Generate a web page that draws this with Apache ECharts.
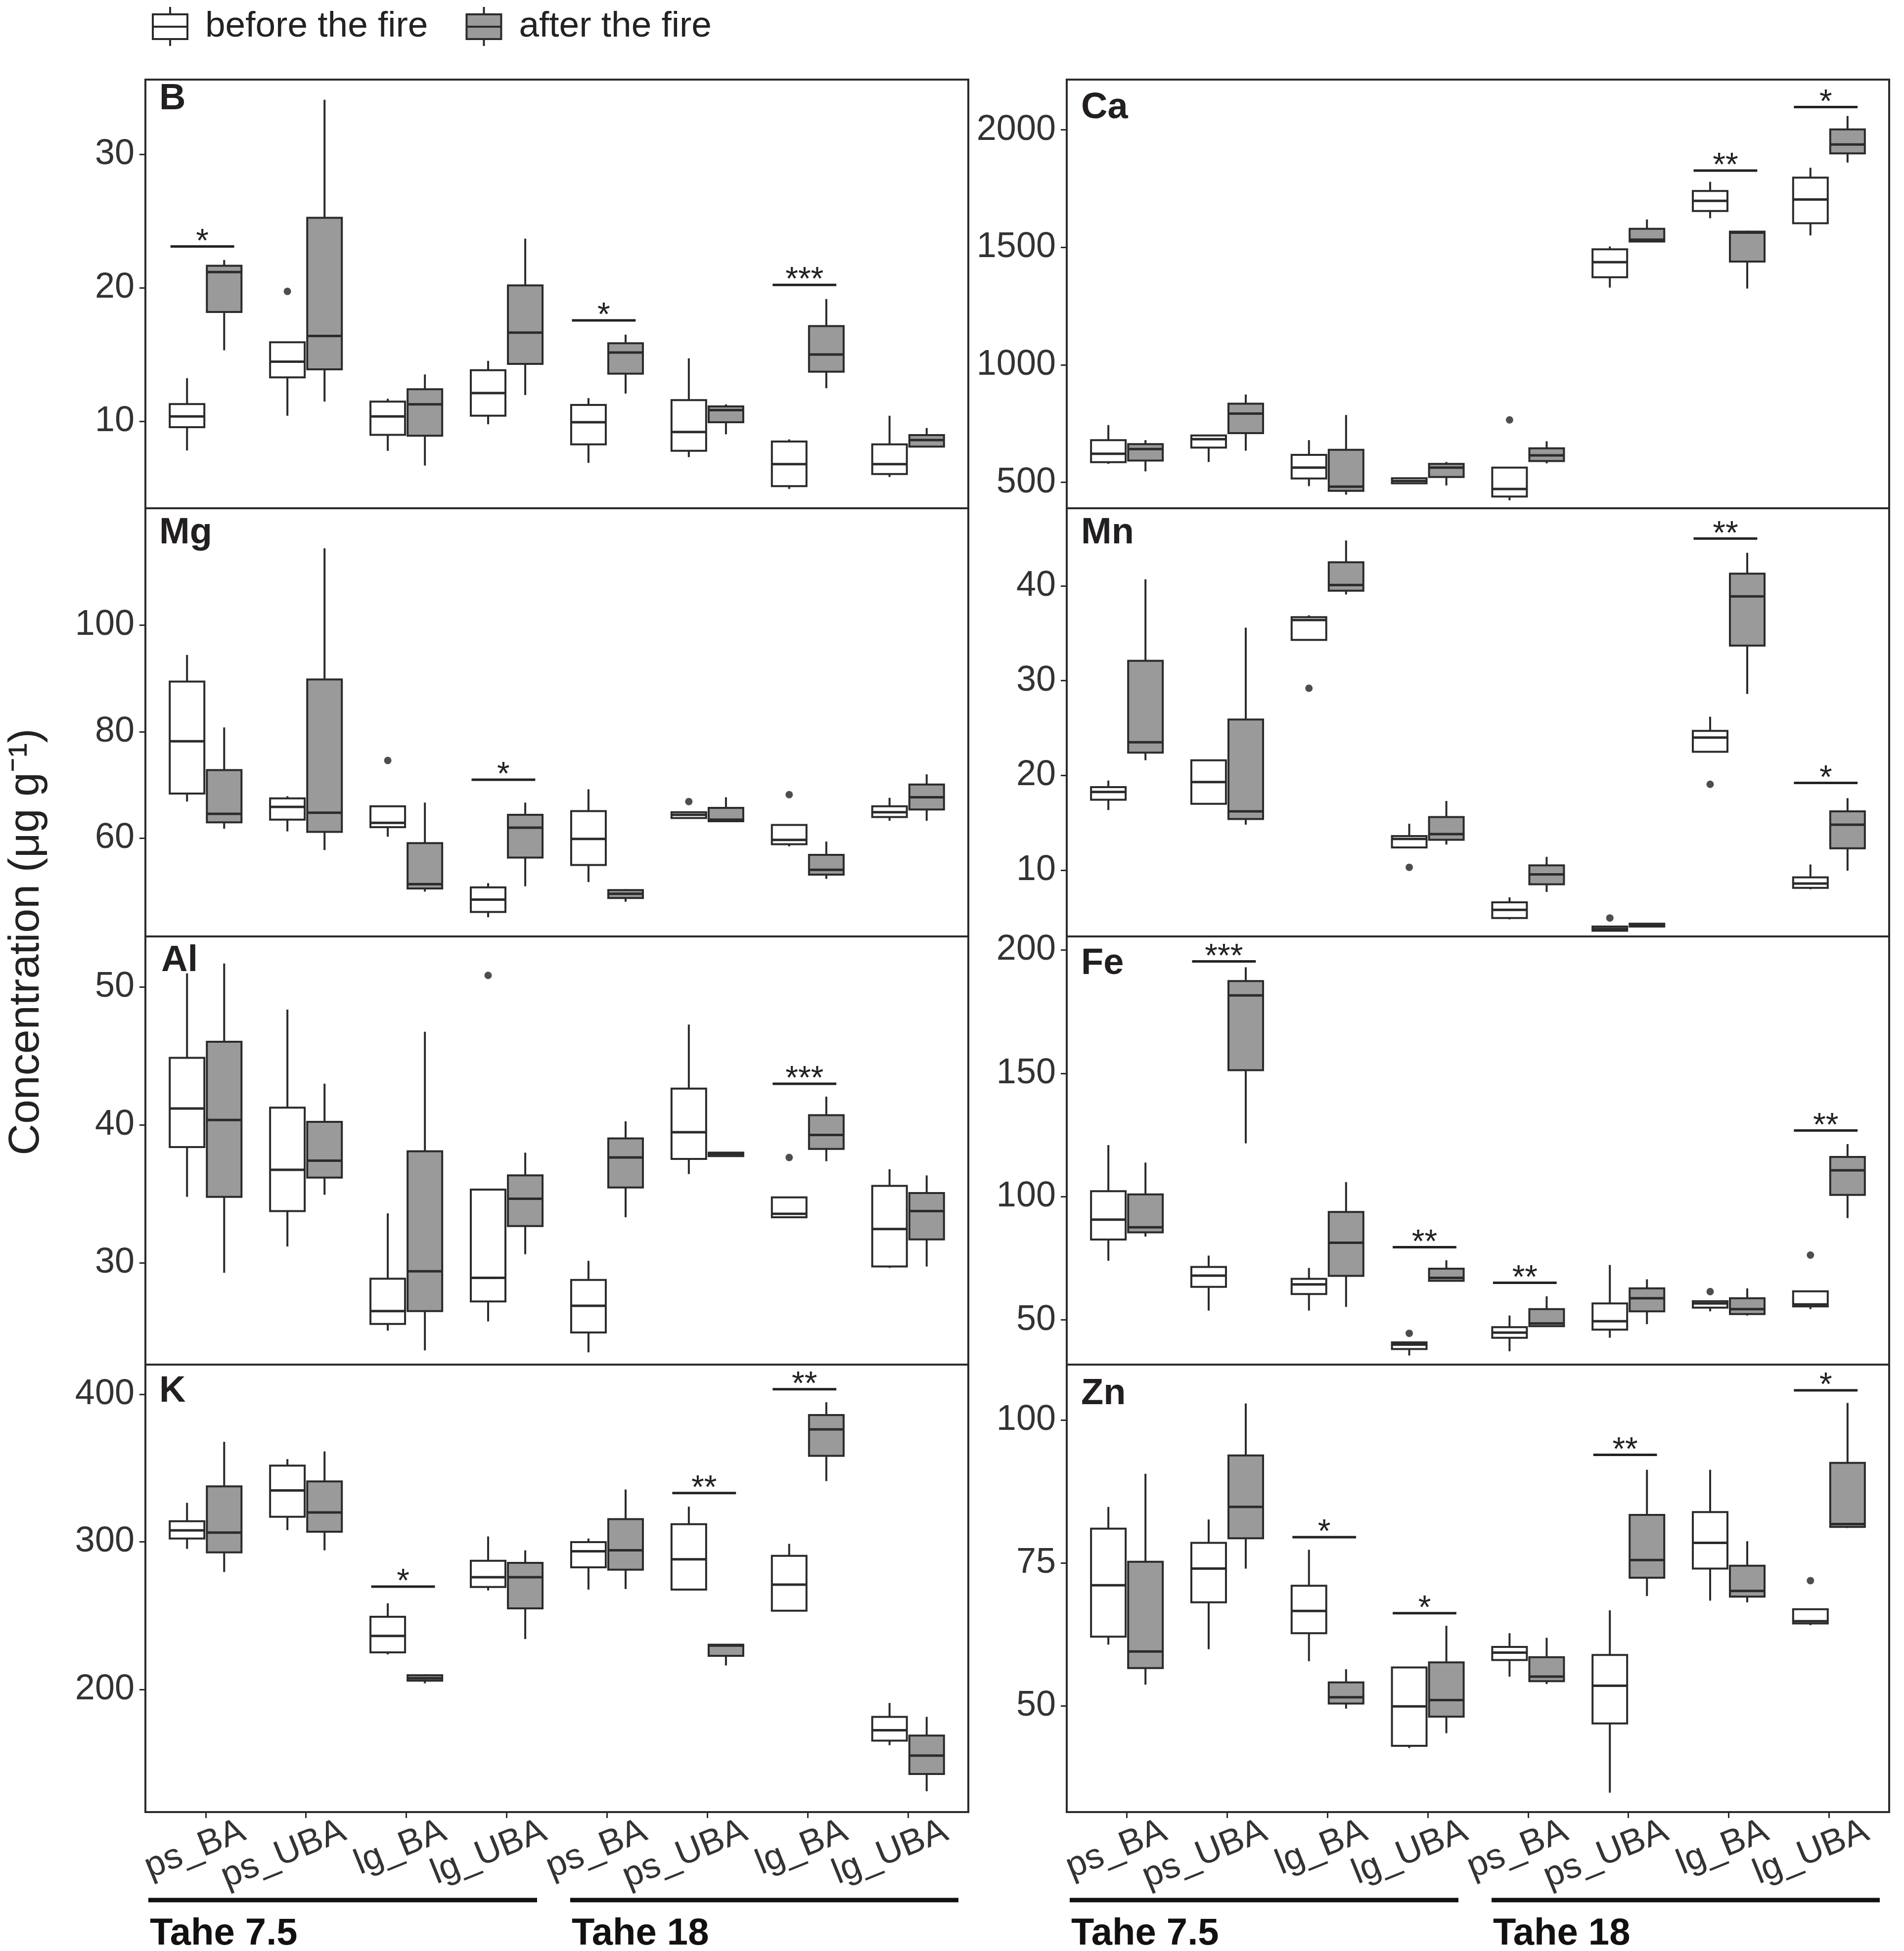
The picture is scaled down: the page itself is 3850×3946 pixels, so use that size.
<!DOCTYPE html>
<html><head><meta charset="utf-8">
<script src="https://cdn.jsdelivr.net/npm/echarts@6/dist/echarts.min.js"></script>
<style>html,body{margin:0;padding:0;background:#fff}#c{width:3850px;height:3946px}</style>
</head><body><div id="c"></div>
<script>
// ---------- data ----------
const categories = ['ps_BA','ps_UBA','lg_BA','lg_UBA','ps_BA','ps_UBA','lg_BA','lg_UBA'];
const seriesNames = ['before the fire','after the fire'];
const groupLabels = ['Tahe 7.5','Tahe 18'];
const yTitle = 'Concentration (μg g⁻¹)';

// each box: [min, Q1, median, Q3, max]
const B_before = [[7.83,9.57,10.38,11.3,13.24],[10.43,13.3,14.48,15.93,15.93],[7.8,9.0,10.38,11.49,11.7],[9.79,10.43,12.13,13.84,14.54],[6.9,8.29,9.94,11.24,11.75],[7.33,7.8,9.21,11.6,14.73],[4.95,5.16,6.8,8.5,8.66],[5.84,6.06,6.8,8.29,10.43]];
const B_after = [[15.33,18.2,21.19,21.66,22.09],[11.49,13.9,16.4,25.25,34.09],[6.7,8.93,11.28,12.41,13.52],[11.98,14.31,16.65,20.19,23.69],[12.09,13.58,15.16,15.86,16.5],[9.04,9.94,10.85,11.13,11.28],[12.49,13.73,15.01,17.14,19.17],[8.12,8.12,8.61,8.98,9.51]];
const B_outliers = [[2,19.74]];
const B_sig = [[1,23.1,'*'],[5,17.57,'*'],[7,20.23,'***']];
const B_ticks = [10,20,30];
const B_range = [3.5,35.6];

const Ca_before = [[579,586,622,680,744],[587,648,684,700,702],[484,517,563,617,680],[494,496,506,518,521],[424,440,472,563,563],[1329,1373,1437,1492,1504],[1624,1655,1698,1740,1779],[1551,1603,1704,1797,1839]];
const Ca_after = [[547,593,642,663,680],[635,710,793,835,874],[448,464,482,639,787],[487,523,563,579,587],[581,591,615,645,675],[1525,1525,1533,1579,1619],[1325,1440,1563,1567,1571],[1861,1900,1938,2002,2059]];
const Ca_outliers = [[5,766]];
const Ca_sig = [[7,1827,'**'],[8,2097,'*']];
const Ca_ticks = [500,1000,1500,2000];
const Ca_range = [390,2214];

const Mg_before = [[66.9,68.4,78.2,89.4,94.4],[61.3,63.5,65.9,67.5,67.9],[60.3,62.1,62.9,66.0,66.0],[45.2,46.2,48.5,50.8,51.6],[51.8,55.0,59.9,65.1,69.2],[63.8,63.8,64.4,64.9,64.9],[58.5,58.9,59.7,62.5,62.5],[63.3,64.0,64.9,66.0,67.6]];
const Mg_after = [[61.8,63.0,64.6,72.8,80.8],[57.8,61.2,64.8,89.8,114.4],[50.0,50.6,51.4,59.1,66.7],[51.0,56.4,62.0,64.4,66.7],[48.1,48.8,49.6,50.3,50.5],[63.2,63.2,63.5,65.7,67.7],[52.4,53.2,54.1,56.9,59.4],[63.3,65.4,67.7,70.1,72.0]];
const Mg_outliers = [[3,74.6],[6,66.9],[7,68.2]];
const Mg_sig = [[4,71.0,'*']];
const Mg_ticks = [60,80,100];
const Mg_range = [41.6,121.9];

const Mn_before = [[16.34,17.43,18.25,18.76,19.46],[17.0,17.0,19.3,21.6,21.66],[34.3,34.3,36.4,36.7,36.9],[12.4,12.4,13.3,13.6,14.9],[4.8,4.95,5.8,6.6,7.13],[3.6,3.6,3.8,4.05,4.05],[22.5,22.5,24.0,24.7,26.2],[7.98,8.13,8.58,9.24,10.6]];
const Mn_after = [[21.6,22.4,23.5,32.1,40.7],[14.8,15.4,16.2,25.9,35.6],[39.1,39.5,40.1,42.5,44.8],[12.7,13.2,13.8,15.6,17.3],[7.7,8.5,9.55,10.5,11.4],[4.05,4.05,4.2,4.35,4.4],[28.6,33.7,38.9,41.3,43.5],[9.94,12.3,14.8,16.2,17.6]];
const Mn_outliers = [[3,29.2],[4,10.3],[6,4.95],[7,19.06]];
const Mn_sig = [[7,45.0,'**'],[8,19.2,'*']];
const Mn_ticks = [10,20,30,40];
const Mn_range = [3.0,48.2];

const Al_before = [[34.8,38.41,41.2,44.87,50.99],[31.2,33.77,36.76,41.26,48.37],[25.1,25.59,26.52,28.87,33.6],[25.77,27.22,28.93,35.32,35.32],[23.53,24.97,26.9,28.78,30.16],[36.45,37.55,39.48,42.64,47.28],[33.32,33.32,33.57,34.76,34.76],[29.65,29.75,32.47,35.59,36.8]];
const Al_after = [[29.3,34.8,40.37,46.04,51.71],[34.95,36.19,37.42,40.23,43.0],[23.67,26.52,29.4,38.1,46.76],[30.64,32.68,34.66,36.35,38.0],[33.32,35.48,37.65,39.03,40.27],[37.75,37.75,37.9,38.0,38.0],[37.38,38.27,39.28,40.72,42.06],[29.75,31.71,33.77,35.07,36.35]];
const Al_outliers = [[4,50.85],[7,37.65]];
const Al_sig = [[7,42.99,'***']];
const Al_ticks = [30,40,50];
const Al_range = [22.64,53.67];

const Fe_before = [[74.0,82.6,90.7,102.2,120.9],[53.8,63.4,68.0,71.5,76.1],[53.8,60.5,64.4,66.7,71.1],[35.6,38.2,40.0,40.9,41.1],[37.3,42.8,44.9,47.1,51.8],[42.8,46.1,49.5,56.7,72.3],[53.5,55.0,56.7,57.6,57.6],[54.4,55.5,56.3,61.6,61.6]];
const Fe_after = [[83.8,85.5,87.6,100.9,113.8],[121.6,151.3,181.6,187.4,193.0],[55.3,67.9,81.3,93.8,105.9],[65.9,65.9,67.1,70.8,74.2],[47.5,47.5,48.6,54.4,59.6],[48.3,53.5,58.8,62.8,66.5],[51.8,52.4,54.4,58.8,62.8],[91.3,100.7,110.7,116.1,121.3]];
const Fe_outliers = [[4,44.6],[7,61.5],[8,76.3]];
const Fe_sig = [[2,195.4,'***'],[4,79.5,'**'],[5,65.1,'**'],[8,126.8,'**']];
const Fe_ticks = [50,100,150,200];
const Fe_range = [31.9,205.5];

const K_before = [[295.3,302.3,307.8,314.0,326.5],[308.0,317.0,334.9,351.7,356.1],[223.8,225.2,236.3,249.3,258.4],[267.1,269.5,276.1,287.2,303.7],[267.7,282.8,293.7,299.9,302.3],[267.7,267.7,288.2,312.0,323.9],[253.4,253.4,271.1,290.6,298.7],[162.3,165.4,172.4,181.5,190.9]];
const K_after = [[279.6,292.9,306.3,337.6,367.8],[294.3,306.9,320.0,341.0,361.3],[204.2,206.0,207.7,209.7,210.3],[234.2,255.0,276.1,285.8,294.3],[268.1,281.2,294.3,315.4,335.5],[216.3,222.8,229.8,230.4,230.8],[341.2,358.3,376.2,385.9,394.6],[131.1,142.8,155.3,168.8,181.5]];
const K_outliers = [];
const K_sig = [[3,269.7,'*'],[6,333.1,'**'],[7,403.4,'**']];
const K_ticks = [200,300,400];
const K_range = [117,420.1];

const Zn_before = [[60.7,62.1,71.1,81.0,84.8],[59.9,68.1,74.0,78.5,82.6],[57.8,62.7,66.6,71.0,77.3],[42.6,43.0,49.9,56.7,56.8],[55.1,58.0,59.3,60.3,62.7],[34.8,46.9,53.5,58.9,66.7],[68.4,74.0,78.5,83.9,91.3],[64.1,64.4,64.8,66.9,66.9]];
const Zn_after = [[53.7,56.6,59.5,75.2,90.6],[74.0,79.3,84.8,93.8,102.9],[49.5,50.4,51.5,54.1,56.4],[45.2,48.1,51.0,57.6,64.0],[53.8,54.3,55.1,58.5,61.9],[69.2,72.4,75.5,83.4,91.3],[68.1,69.1,70.1,74.5,78.8],[81.1,81.3,81.8,92.5,103.0]];
const Zn_outliers = [[8,71.9]];
const Zn_sig = [[3,79.5,'*'],[4,66.2,'*'],[6,93.9,'**'],[8,105.2,'*']];
const Zn_ticks = [50,75,100];
const Zn_range = [31.4,109.7];

// ---------- layout / style ----------
const FONT = "'Liberation Sans', Arial, Helvetica, sans-serif";
const INK = '#2b2b2b';
const FILLS = ['#ffffff', '#9a9a9a'];
const colLeft = [294, 2157], colWidth = [1664, 1663];
const rowTop = [161, 1028, 1894, 2760], rowH = [867, 866, 866, 905];
const DODGE = 0.185, HALFBOX = 35;

const panels = [
  {name:'B',  col:0,row:0, b:B_before,  a:B_after,  o:B_outliers,  s:B_sig,  t:B_ticks,  r:B_range,  dy:15, dx:28},
  {name:'Mg', col:0,row:1, b:Mg_before, a:Mg_after, o:Mg_outliers, s:Mg_sig, t:Mg_ticks, r:Mg_range, dy:26, dx:28},
  {name:'Al', col:0,row:2, b:Al_before, a:Al_after, o:Al_outliers, s:Al_sig, t:Al_ticks, r:Al_range, dy:25, dx:32},
  {name:'K',  col:0,row:3, b:K_before,  a:K_after,  o:K_outliers,  s:K_sig,  t:K_ticks,  r:K_range,  dy:30, dx:28},
  {name:'Ca', col:1,row:0, b:Ca_before, a:Ca_after, o:Ca_outliers, s:Ca_sig, t:Ca_ticks, r:Ca_range, dy:33, dx:29},
  {name:'Mn', col:1,row:1, b:Mn_before, a:Mn_after, o:Mn_outliers, s:Mn_sig, t:Mn_ticks, r:Mn_range, dy:26, dx:29},
  {name:'Fe', col:1,row:2, b:Fe_before, a:Fe_after, o:Fe_outliers, s:Fe_sig, t:Fe_ticks, r:Fe_range, dy:31, dx:29},
  {name:'Zn', col:1,row:3, b:Zn_before, a:Zn_after, o:Zn_outliers, s:Zn_sig, t:Zn_ticks, r:Zn_range, dy:35, dx:29}
];

const catPos = categories.map((c, k) => k + 1);
const LABEL_SHIFT = 0.38;

function boxRender(fill) {
  return function (params, api) {
    const x = api.value(0);
    const pMin = api.coord([x, api.value(1)]);
    const pQ1 = api.coord([x, api.value(2)]);
    const pMed = api.coord([x, api.value(3)]);
    const pQ3 = api.coord([x, api.value(4)]);
    const pMax = api.coord([x, api.value(5)]);
    const cx = pMed[0];
    const ls = {stroke: INK, lineWidth: 4};
    return {type: 'group', children: [
      {type: 'line', shape: {x1: cx, y1: pMax[1], x2: cx, y2: pQ3[1]}, style: ls},
      {type: 'line', shape: {x1: cx, y1: pQ1[1], x2: cx, y2: pMin[1]}, style: ls},
      {type: 'rect', shape: {x: cx - HALFBOX, y: pQ3[1], width: 2 * HALFBOX, height: pQ1[1] - pQ3[1]}, style: {fill: fill, stroke: INK, lineWidth: 4}},
      {type: 'line', shape: {x1: cx - HALFBOX, y1: pMed[1], x2: cx + HALFBOX, y2: pMed[1]}, style: {stroke: INK, lineWidth: 5}}
    ]};
  };
}

function sigRender(sig) {
  return function (params, api) {
    const x = api.value(0), y = api.value(1);
    const p1 = api.coord([x - 0.35, y]);
    const p2 = api.coord([x + 0.285, y]);
    return {type: 'group', children: [
      {type: 'line', shape: {x1: p1[0], y1: p1[1], x2: p2[0], y2: p2[1]}, style: {stroke: '#222', lineWidth: 5}},
      {type: 'text', x: (p1[0] + p2[0]) / 2, y: p1[1] - 8, style: {text: sig[params.dataIndex][2], fontSize: 66, fontFamily: FONT, fill: '#222', align: 'center', verticalAlign: 'middle'}}
    ]};
  };
}

const grid = [], xAxis = [], yAxis = [], series = [], graphic = [];
panels.forEach((p, i) => {
  const bottom = p.row === 3;
  grid.push({left: colLeft[p.col], top: rowTop[p.row], width: colWidth[p.col], height: rowH[p.row],
    show: true, borderColor: INK, borderWidth: 4, backgroundColor: 'transparent'});
  xAxis.push({gridIndex: i, type: 'value', min: 0.4, max: 8.6, position: 'bottom',
    axisLine: {show: false, onZero: false}, splitLine: {show: false},
    axisTick: {show: bottom, customValues: catPos, length: 12, lineStyle: {color: INK, width: 3}},
    axisLabel: {show: bottom, customValues: catPos.map(v => v + LABEL_SHIFT), rotate: 22, margin: 36,
      fontSize: 72, color: '#333', fontFamily: FONT,
      formatter: v => categories[Math.round(v - LABEL_SHIFT) - 1] || ''}});
  yAxis.push({gridIndex: i, type: 'value', min: p.r[0], max: p.r[1],
    axisLine: {show: false, onZero: false}, splitLine: {show: false},
    axisTick: {show: true, customValues: p.t, length: 12, lineStyle: {color: INK, width: 3}},
    axisLabel: {show: true, customValues: p.t, margin: 22, fontSize: 72, color: '#333', fontFamily: FONT,
      formatter: v => String(v)}});
  [p.b, p.a].forEach((arr, s) => {
    series.push({type: 'custom', name: seriesNames[s], xAxisIndex: i, yAxisIndex: i,
      itemStyle: {color: FILLS[s], borderColor: INK},
      renderItem: boxRender(FILLS[s]),
      encode: {x: 0, y: [1, 2, 3, 4, 5]},
      data: arr.map((v, k) => [k + 1 + (s === 0 ? -DODGE : DODGE)].concat(v))});
  });
  if (p.o.length) {
    series.push({type: 'scatter', name: 'outliers', xAxisIndex: i, yAxisIndex: i, symbolSize: 15,
      itemStyle: {color: '#222'}, data: p.o.map(o => [o[0] - DODGE, o[1]])});
  }
  if (p.s.length) {
    series.push({type: 'custom', name: 'significance', xAxisIndex: i, yAxisIndex: i,
      renderItem: sigRender(p.s), encode: {x: 0, y: 1}, data: p.s.map(s => [s[0], s[1]])});
  }
  graphic.push({type: 'text', left: colLeft[p.col] + p.dx, top: rowTop[p.row] + p.dy - 12,
    style: {text: p.name, fontSize: 74, fontWeight: 'bold', fontFamily: FONT, fill: '#231f20'}});
});

// y-axis title
graphic.push({type: 'text', x: 54, y: 1905, rotation: Math.PI / 2,
  style: {text: yTitle, fontSize: 88, fontFamily: FONT, fill: '#222', align: 'center', verticalAlign: 'middle'}});

// group bars and labels under x-axis
[0, 1].forEach(c => {
  const L = colLeft[c];
  [[6, 792], [859, 1644]].forEach((seg, g) => {
    graphic.push({type: 'line', shape: {x1: L + seg[0], y1: 3843, x2: L + seg[1], y2: 3843},
      style: {stroke: '#111', lineWidth: 9}});
    graphic.push({type: 'text', x: L + seg[0] + 3, y: 3912,
      style: {text: groupLabels[g], fontSize: 76, fontWeight: 'bold', fontFamily: FONT, fill: '#111', verticalAlign: 'middle'}});
  });
});

const ICON = 'path://M35,0L35,15M0,15L70,15L70,65L0,65ZM0,40L70,40M35,65L35,79';

const option = {
  animation: false,
  backgroundColor: '#ffffff',
  textStyle: {fontFamily: FONT},
  legend: {left: 302, top: 7, itemWidth: 72, itemHeight: 79, itemGap: 76, selectedMode: false,
    textStyle: {fontSize: 73, color: '#222', fontFamily: FONT, padding: [0, 0, 0, 30]},
    data: [
      {name: seriesNames[0], icon: ICON, itemStyle: {color: FILLS[0], borderColor: INK, borderWidth: 4}},
      {name: seriesNames[1], icon: ICON, itemStyle: {color: FILLS[1], borderColor: INK, borderWidth: 4}}
    ]},
  grid, xAxis, yAxis, series, graphic
};

const chart = echarts.init(document.getElementById('c'));
chart.setOption(option);
</script>
</body></html>
